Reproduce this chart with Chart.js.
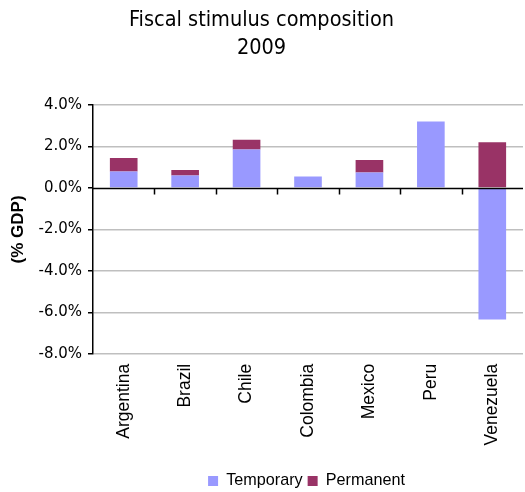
<!DOCTYPE html>
<html>
<head>
<meta charset="utf-8">
<script src="https://cdn.jsdelivr.net/npm/chart.js@4.4.1/dist/chart.umd.min.js"></script>
<style>
  html, body { margin: 0; padding: 0; background: #fff; }
  #wrap { width: 525px; height: 492px; }
</style>
</head>
<body>
<div id="wrap"><canvas id="stimulusChart" width="525" height="492"></canvas></div>
<script>
// fiscal stimulus 2009, % of GDP
const countries = ["Argentina", "Brazil", "Chile", "Colombia", "Mexico", "Peru", "Venezuela"];
const temporary = [0.8, 0.6, 1.85, 0.55, 0.75, 3.2, -6.35];
const permanent = [0.65, 0.27, 0.48, 0, 0.6, 0, 2.2];
const yTicks = [-8, -6, -4, -2, 0, 2, 4];

// black zero line with small category ticks hanging below it
const zeroAxis = {
  id: "zeroAxis",
  afterDatasetsDraw(chart) {
    const { ctx, chartArea, scales } = chart;
    const x = scales.x, y = scales.y;
    const y0 = Math.round(y.getPixelForValue(0)) + 0.5;
    ctx.save();
    ctx.strokeStyle = "#000";
    ctx.lineWidth = 1.5;
    ctx.beginPath();
    ctx.moveTo(chartArea.left, y0);
    ctx.lineTo(chartArea.right, y0);
    for (let i = 0; i < countries.length - 1; i++) {
      const bx = Math.round((x.getPixelForTick(i) + x.getPixelForTick(i + 1)) / 2) + 0.5;
      ctx.moveTo(bx, y0);
      ctx.lineTo(bx, y0 + 6);
    }
    ctx.stroke();
    ctx.restore();
  }
};

// legend sits a bit right of centre and lower than the default box
const legendShift = {
  id: "legendShift",
  afterLayout(chart) {
    const l = chart.legend;
    l.left += 45; l.right += 45;
    l.top += 7; l.bottom += 7;
  }
};

const ctx = document.getElementById("stimulusChart").getContext("2d");
new Chart(ctx, {
  type: "bar",
  data: {
    labels: countries,
    datasets: [
      { label: "Temporary", data: temporary, backgroundColor: "#9999ff" },
      { label: "Permanent", data: permanent, backgroundColor: "#993366" }
    ]
  },
  options: {
    responsive: false,
    animation: false,
    layout: { padding: { left: 0, right: 2, top: 0, bottom: 0 } },
    datasets: { bar: { categoryPercentage: 1, barPercentage: 0.45 } },
    plugins: {
      title: {
        display: true,
        text: ["Fiscal stimulus composition", "2009"],
        color: "#000",
        font: { family: "'DejaVu Sans Condensed', 'DejaVu Sans'", size: 21.5, weight: "normal", lineHeight: 1.28 },
        padding: { top: 7, bottom: 43 }
      },
      legend: {
        position: "bottom",
        labels: {
          boxWidth: 10,
          boxHeight: 10,
          padding: 5,
          color: "#000",
          font: { family: "Liberation Sans", size: 16.2 }
        }
      },
      tooltip: { enabled: false }
    },
    scales: {
      x: {
        stacked: true,
        grid: { display: false, drawTicks: false },
        border: { display: false },
        ticks: {
          color: "#000",
          maxRotation: 90,
          minRotation: 90,
          padding: 10,
          font: { family: "Liberation Sans", size: 17.5 }
        },
        afterFit(scale) { scale.height = 107; }
      },
      y: {
        stacked: true,
        min: -8,
        max: 4,
        afterBuildTicks(scale) { scale.ticks = yTicks.map(v => ({ value: v })); },
        grid: {
          color: c => (c.tick && c.tick.value === 0 ? "rgba(0,0,0,0)" : "#bfbfbf"),
          lineWidth: 1.5,
          tickColor: "#000",
          tickLength: 5
        },
        border: { display: true, color: "#000", width: 1.5 },
        ticks: {
          color: "#000",
          padding: 6,
          font: { family: "DejaVu Sans", size: 15 },
          callback: v => v.toFixed(1) + "%"
        },
        title: {
          display: true,
          text: "(% GDP)",
          color: "#000",
          font: { family: "Liberation Sans", size: 17, weight: "bold" },
          padding: { top: 8, bottom: 0 }
        },
        afterFit(scale) { scale.width = 93; }
      }
    }
  },
  plugins: [zeroAxis, legendShift]
});
</script>
</body>
</html>
